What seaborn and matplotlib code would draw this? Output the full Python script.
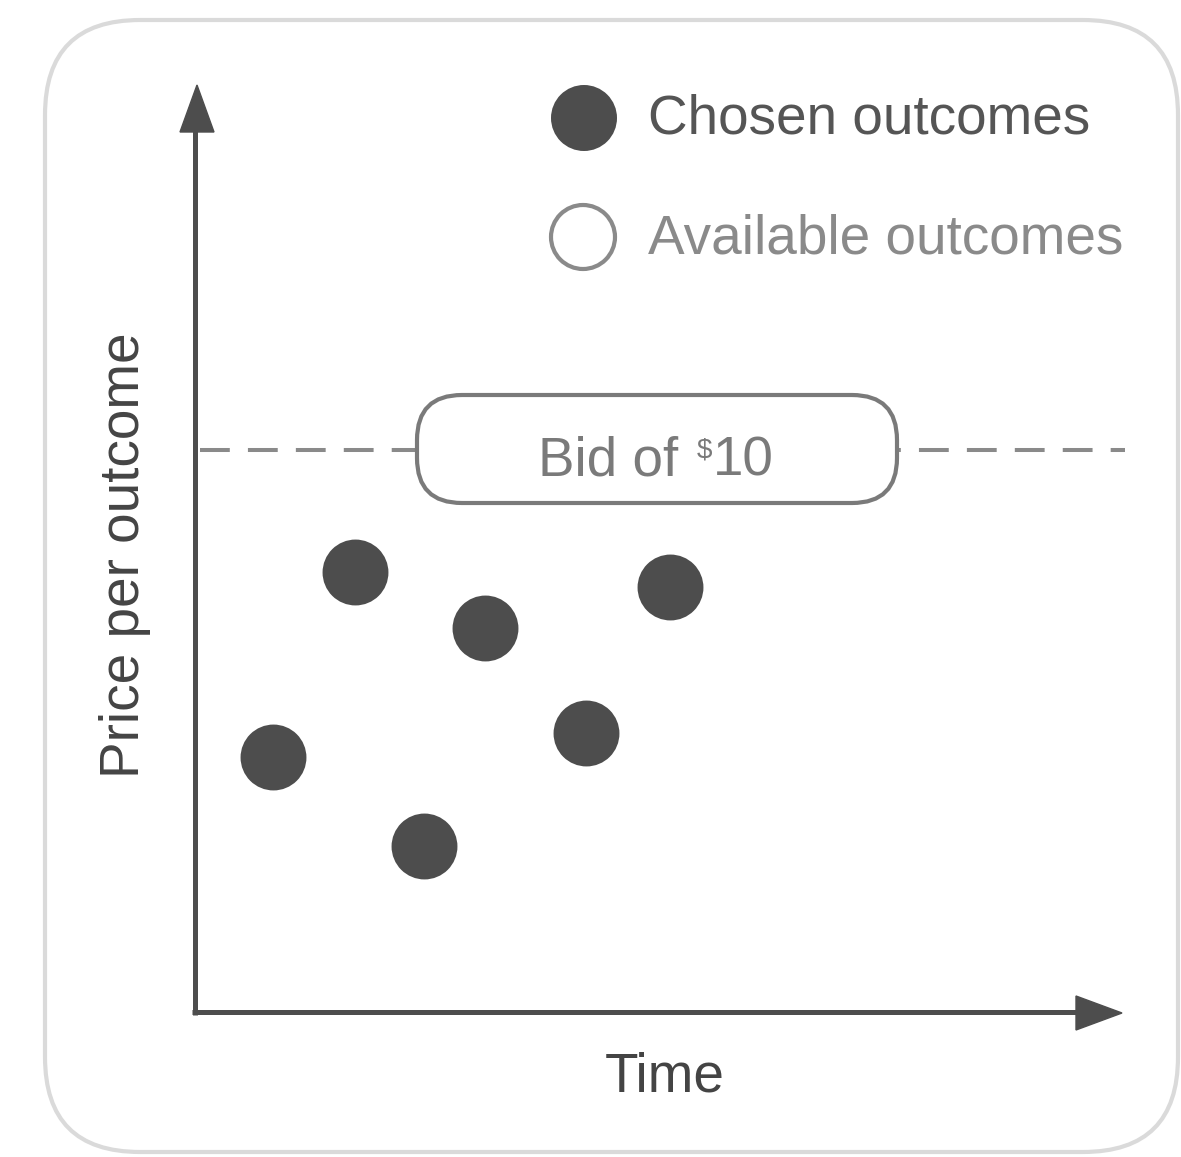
import numpy as np
import pandas as pd
import seaborn as sns
import matplotlib.pyplot as plt
from matplotlib.patches import FancyBboxPatch, Polygon, Circle
from matplotlib.transforms import Affine2D

sns.set_style("white")
plt.rcParams['font.family'] = ['Liberation Sans', 'DejaVu Sans']

# chosen outcomes (time, price) - same units on both axes, bid at 10
time_vals = [1.39, 2.85, 4.07, 5.16, 6.96, 8.45]
price_vals = [4.54, 7.83, 2.95, 6.83, 4.96, 7.56]
bid = 10
x_label = "Time"
y_label = "Price per outcome"
legend_labels = ["Chosen outcomes", "Available outcomes"]

df = pd.DataFrame({"time": time_vals, "price": price_vals})

W, H = 1181, 1157
fig = plt.figure(figsize=(W / 100, H / 100), dpi=100)
ax = fig.add_axes([0, 0, 1, 1])

# origin of the drawn axes sits at pixel (195, 1012), 56.2 px per unit
ox, oy, u = 195, 1012, 56.2
ax.set_xlim(-ox / u, (W - ox) / u)
ax.set_ylim((oy - H) / u, oy / u)
ax.axis('off')

# pixel transform, origin top left
pix = Affine2D().scale(1 / 100, -1 / 100).translate(0, H / 100) + fig.dpi_scale_trans

dark = "#4d4d4d"
mid = "#8a8a8a"
fs = 39.5

# outer rounded frame
fig.patches.append(FancyBboxPatch((45, 20), 1133, 1132,
                                  boxstyle="round,pad=0,rounding_size=95",
                                  transform=pix, fc="none", ec="#dadada", lw=3))

# axes with arrowheads
ax.plot([0, 0], [-0.05, (oy - 125) / u], color=dark, lw=3.6, solid_capstyle='butt')
ax.plot([-0.05, (1080 - ox) / u], [0, 0], color=dark, lw=3.6, solid_capstyle='butt')
fig.patches.append(Polygon([(197, 85), (180, 132), (214, 132)], closed=True,
                           transform=pix, fc=dark, ec=dark))
fig.patches.append(Polygon([(1122, 1013), (1076, 996), (1076, 1030)], closed=True,
                           transform=pix, fc=dark, ec=dark))

# bid line
ax.plot([(200 - ox) / u, (1125 - ox) / u], [bid, bid], color=mid, lw=2.9,
        dashes=(7.4, 4.5), zorder=1)
fig.patches.append(FancyBboxPatch((417, 395), 480, 108,
                                  boxstyle="round,pad=0,rounding_size=45",
                                  transform=pix, fc="white", ec="#7a7a7a", lw=3, zorder=3))
bid_col = "#7a7a7a"
fig.text(538 / W, 1 - 476 / H, "Bid of", ha='left', va='baseline',
         fontsize=fs, color=bid_col, zorder=4)
fig.text(697 / W, 1 - 458 / H, "$", ha='left', va='baseline',
         fontsize=20, color=bid_col, zorder=4)
fig.text(713 / W, 1 - 476 / H, str(bid), ha='left', va='baseline',
         fontsize=fs, color=bid_col, zorder=4)

# chosen outcomes
sns.scatterplot(data=df, x="time", y="price", s=2250, color=dark,
                edgecolor=dark, linewidth=0, ax=ax, legend=False, zorder=5)

# legend
fig.patches.append(Circle((584, 118), 33, transform=pix, fc=dark, ec=dark, lw=0))
fig.patches.append(Circle((583, 237), 32, transform=pix, fc="white", ec=mid, lw=3))
fig.text(648 / W, 1 - 120 / H, legend_labels[0], ha='left', va='center',
         fontsize=fs, color="#555555")
fig.text(648 / W, 1 - 239 / H, legend_labels[1], ha='left', va='center',
         fontsize=fs, color=mid)

# axis labels
fig.text(665 / W, 1 - 1078 / H, x_label, ha='center', va='center',
         fontsize=fs, color="#444444")
fig.text(125 / W, 1 - 555 / H, y_label, ha='center', va='center', rotation=90,
         fontsize=fs, color="#444444")

fig.savefig("out.png", dpi=100)
